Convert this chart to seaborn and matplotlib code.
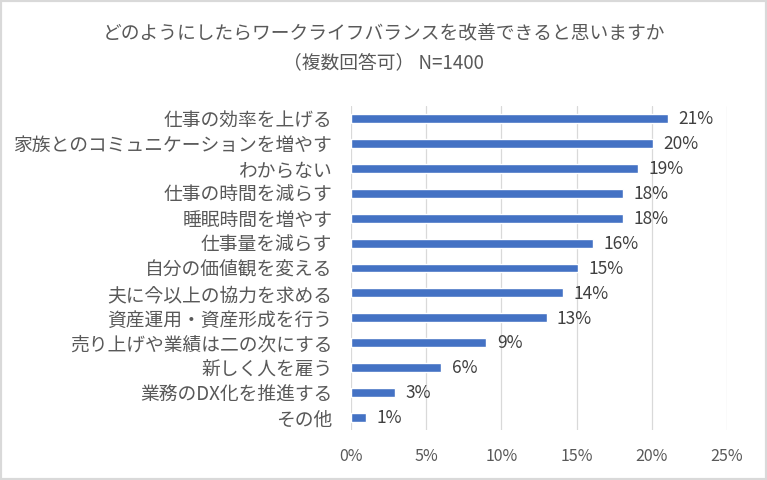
import matplotlib
matplotlib.use("Agg")
import matplotlib.pyplot as plt
import seaborn as sns
import pandas as pd
from matplotlib.patches import Rectangle

categories = [
    "仕事の効率を上げる",
    "家族とのコミュニケーションを増やす",
    "わからない",
    "仕事の時間を減らす",
    "睡眠時間を増やす",
    "仕事量を減らす",
    "自分の価値観を変える",
    "夫に今以上の協力を求める",
    "資産運用・資産形成を行う",
    "売り上げや業績は二の次にする",
    "新しく人を雇う",
    "業務のDX化を推進する",
    "その他",
]
values = [21.1, 20.1, 19.1, 18.1, 18.1, 16.1, 15.1, 14.1, 13.0, 9.0, 6.0, 2.9, 1.0]
value_labels = ["21%", "20%", "19%", "18%", "18%", "16%", "15%", "14%", "13%", "9%", "6%", "3%", "1%"]
x_ticks = [0, 5, 10, 15, 20, 25]
x_tick_labels = ["0%", "5%", "10%", "15%", "20%", "25%"]
title_line1 = "どのようにしたらワークライフバランスを改善できると思いますか"
title_line2 = "（複数回答可） N=1400"

sns.set_theme(style="white")
plt.rcParams['font.family'] = ['Noto Sans CJK JP', 'DejaVu Sans']

df = pd.DataFrame({"category": categories, "value": values})

fig = plt.figure(figsize=(7.67, 4.8), dpi=100)
ax = fig.add_axes([351/767, 1-430/480, (727-351)/767, (430-106)/480])

sns.barplot(data=df, x="value", y="category", color="#4472C4", width=0.36,
            saturation=1, ax=ax, zorder=3)

ax.set_xlim(0, 25)
ax.set_ylim(12.5, -0.5)
ax.set_xticks(x_ticks)
ax.set_xticklabels(x_tick_labels, fontsize=11.5, color="#595959")
ax.set_yticks(range(len(categories)))
ax.set_yticklabels(categories, fontsize=13.5, color="#595959")
ax.tick_params(axis="both", length=0)
ax.tick_params(axis="x", pad=13)
ax.tick_params(axis="y", pad=13.5)
ax.set_xlabel("")
ax.set_ylabel("")
for s in ax.spines.values():
    s.set_visible(False)
ax.grid(axis="x", color="#d9d9d9", linewidth=0.9, zorder=0)
ax.set_axisbelow(True)

for i, (v, lab) in enumerate(zip(values, value_labels)):
    ax.annotate(lab, xy=(v, i), xytext=(7.5, -0.5), textcoords="offset points",
                va="center", ha="left", fontsize=12.5, color="#404040")

fig.text(0.5, 1-33/480, title_line1, ha="center", va="center", fontsize=13.5, color="#595959")
fig.text(0.5, 1-63/480, title_line2, ha="center", va="center", fontsize=13.5, color="#595959")

fig.patches.append(Rectangle((0, 0), 1, 1, transform=fig.transFigure, fill=False,
                             edgecolor="#d9d9d9", linewidth=3, zorder=10))

fig.savefig("out.png", dpi=100, facecolor="white")
